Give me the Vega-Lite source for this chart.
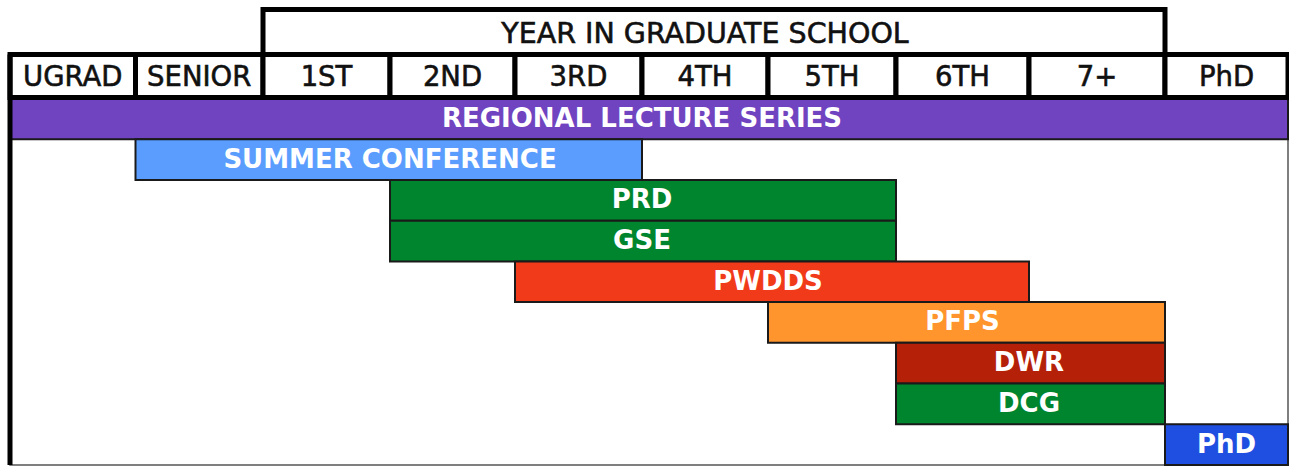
{
  "$schema": "https://vega.github.io/schema/vega-lite/v6.json",
  "width": 1289,
  "height": 466,
  "padding": 0,
  "autosize": "none",
  "background": "white",
  "config": {"view": {"stroke": null}},
  "datasets": {
    "cols": [
      {"label": "UGRAD", "c0": 0, "c1": 1},
      {"label": "SENIOR", "c0": 1, "c1": 2},
      {"label": "1ST", "c0": 2, "c1": 3},
      {"label": "2ND", "c0": 3, "c1": 4},
      {"label": "3RD", "c0": 4, "c1": 5},
      {"label": "4TH", "c0": 5, "c1": 6},
      {"label": "5TH", "c0": 6, "c1": 7},
      {"label": "6TH", "c0": 7, "c1": 8},
      {"label": "7+", "c0": 8, "c1": 9},
      {"label": "PhD", "c0": 9, "c1": 10}
    ],
    "top": [{"label": "YEAR IN GRADUATE SCHOOL", "c0": 2, "c1": 9}],
    "bars": [
      {"program": "REGIONAL LECTURE SERIES", "start": 0, "end": 10},
      {"program": "SUMMER CONFERENCE", "start": 1, "end": 5},
      {"program": "PRD", "start": 3, "end": 7},
      {"program": "GSE", "start": 3, "end": 7},
      {"program": "PWDDS", "start": 4, "end": 8},
      {"program": "PFPS", "start": 6, "end": 9},
      {"program": "DWR", "start": 7, "end": 9},
      {"program": "DCG", "start": 7, "end": 9},
      {"program": "PhD", "start": 9, "end": 10}
    ]
  },
  "resolve": {"scale": {"y": "independent"}},
  "layer": [
    {
      "data": {"values": [{}]},
      "mark": {"type": "rect", "fill": null, "stroke": "#555555", "strokeWidth": 1.5},
      "encoding": {
        "x": {"datum": 0, "type": "quantitative", "axis": null, "scale": {"domain": [0,1,2,3,4,5,6,7,8,9,10], "range": [10,135.5,263,390,515,642,768,896,1029,1165,1288], "nice": false, "zero": false}},
        "x2": {"datum": 10},
        "y": {"datum": 2, "type": "quantitative", "axis": null, "scale": {"domain": [0,1,2,3], "range": [9.5,54.5,97.5,465], "nice": false, "zero": false}},
        "y2": {"datum": 3}
      }
    },
    {
      "data": {"name": "bars"},
      "mark": {"type": "rect", "stroke": "#1a1a1a", "strokeWidth": 2},
      "encoding": {
        "x": {"field": "start", "type": "quantitative", "axis": null},
        "x2": {"field": "end"},
        "y": {"field": "program", "type": "nominal", "axis": null, "sort": null, "scale": {"domain": ["REGIONAL LECTURE SERIES","SUMMER CONFERENCE","PRD","GSE","PWDDS","PFPS","DWR","DCG","PhD"], "range": [98.5, 465], "paddingInner": 0, "paddingOuter": 0}},
        "color": {"field": "program", "type": "nominal", "legend": null, "scale": {"domain": ["REGIONAL LECTURE SERIES","SUMMER CONFERENCE","PRD","GSE","PWDDS","PFPS","DWR","DCG","PhD"], "range": ["#7043c0","#5a9dff","#00852f","#00852f","#f03a1a","#ff952c","#b52108","#00852f","#1f4fe0"]}}
      }
    },
    {
      "data": {"name": "bars"},
      "transform": [{"calculate": "(datum.start + datum.end) / 2", "as": "mid"}],
      "mark": {"type": "text", "color": "white", "font": "DejaVu Sans", "fontWeight": "bold", "fontSize": 26, "baseline": "middle", "align": "center", "dy": 0},
      "encoding": {
        "x": {"field": "mid", "type": "quantitative", "axis": null},
        "y": {"field": "program", "type": "nominal", "axis": null, "sort": null, "scale": {"domain": ["REGIONAL LECTURE SERIES","SUMMER CONFERENCE","PRD","GSE","PWDDS","PFPS","DWR","DCG","PhD"], "range": [98.5, 465], "paddingInner": 0, "paddingOuter": 0}},
        "text": {"field": "program"}
      }
    },
    {
      "data": {"name": "cols"},
      "mark": {"type": "rect", "fill": "white", "stroke": "black", "strokeWidth": 5},
      "encoding": {
        "x": {"field": "c0", "type": "quantitative", "axis": null},
        "x2": {"field": "c1"},
        "y": {"datum": 1, "type": "quantitative", "axis": null, "scale": {"domain": [0,1,2,3], "range": [9.5,54.5,97.5,465], "nice": false, "zero": false}},
        "y2": {"datum": 2}
      }
    },
    {
      "data": {"name": "top"},
      "mark": {"type": "rect", "fill": "white", "stroke": "black", "strokeWidth": 5},
      "encoding": {
        "x": {"field": "c0", "type": "quantitative", "axis": null},
        "x2": {"field": "c1"},
        "y": {"datum": 0, "type": "quantitative", "axis": null, "scale": {"domain": [0,1,2,3], "range": [9.5,54.5,97.5,465], "nice": false, "zero": false}},
        "y2": {"datum": 1}
      }
    },
    {
      "data": {"name": "cols"},
      "transform": [{"calculate": "(datum.c0 + datum.c1) / 2", "as": "mid"}],
      "mark": {"type": "text", "color": "#111111", "font": "DejaVu Sans", "fontSize": 27.5, "baseline": "middle", "align": "center", "dy": 2, "stroke": "#111111", "strokeWidth": 0.6},
      "encoding": {
        "x": {"field": "mid", "type": "quantitative", "axis": null},
        "y": {"datum": 1.5, "type": "quantitative", "axis": null, "scale": {"domain": [0,1,2,3], "range": [9.5,54.5,97.5,465], "nice": false, "zero": false}},
        "text": {"field": "label"}
      }
    },
    {
      "data": {"name": "top"},
      "transform": [{"calculate": "(datum.c0 + datum.c1) / 2", "as": "mid"}],
      "mark": {"type": "text", "color": "#111111", "font": "DejaVu Sans", "fontSize": 28.5, "baseline": "middle", "align": "center", "dy": 2, "stroke": "#111111", "strokeWidth": 0.6},
      "encoding": {
        "x": {"field": "mid", "type": "quantitative", "axis": null},
        "y": {"datum": 0.5, "type": "quantitative", "axis": null, "scale": {"domain": [0,1,2,3], "range": [9.5,54.5,97.5,465], "nice": false, "zero": false}},
        "text": {"field": "label"}
      }
    },
    {
      "data": {"values": [{}]},
      "mark": {"type": "rule", "color": "black", "strokeWidth": 5},
      "encoding": {
        "x": {"datum": 0, "type": "quantitative", "axis": null},
        "y": {"datum": 1, "type": "quantitative", "axis": null, "scale": {"domain": [0,1,2,3], "range": [9.5,54.5,97.5,465], "nice": false, "zero": false}},
        "y2": {"datum": 3}
      }
    }
  ]
}
